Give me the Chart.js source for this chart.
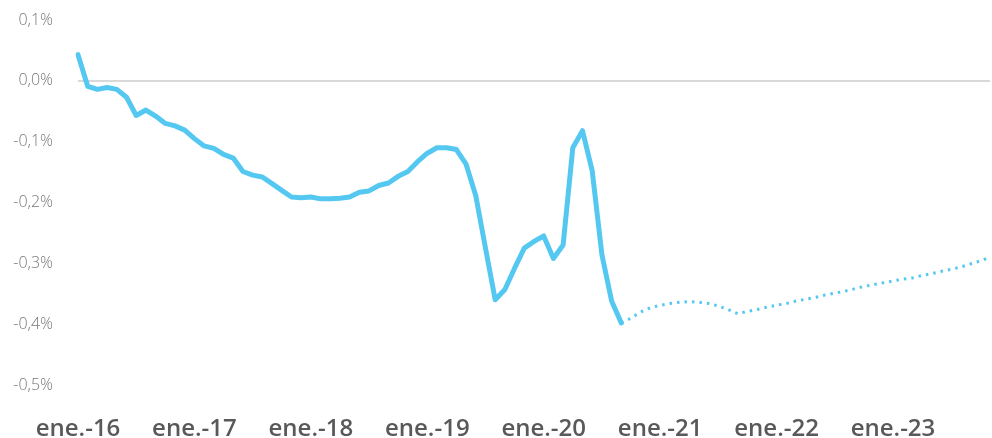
<!DOCTYPE html>
<html>
<head>
<meta charset="utf-8">
<script src="https://cdn.jsdelivr.net/npm/chart.js@4"></script>
<style>
  html, body { margin: 0; padding: 0; background: #fff; }
  #wrap { width: 992px; height: 438px; position: relative; }
</style>
</head>
<body>
<div id="wrap"><canvas id="chart"></canvas></div>
<script>
// month labels, Jan 2016 .. Nov 2023
const monthNames = ['ene.', 'feb.', 'mar.', 'abr.', 'may.', 'jun.', 'jul.', 'ago.', 'sep.', 'oct.', 'nov.', 'dic.'];
const years = ['16', '17', '18', '19', '20', '21', '22', '23'];
const labels = [];
years.forEach(y => monthNames.forEach(m => labels.push(m + '-' + y)));
labels.splice(95); // ends nov.-23

// observed series (%), ene.-16 .. sep.-20
const observed = [
  0.043, -0.009, -0.014, -0.011, -0.014, -0.027, -0.057, -0.048, -0.058, -0.070, -0.074, -0.081,
  -0.095, -0.107, -0.111, -0.121, -0.127, -0.149, -0.155, -0.158, -0.169, -0.180, -0.191, -0.192,
  -0.191, -0.194, -0.194, -0.193, -0.191, -0.183, -0.181, -0.172, -0.168, -0.157, -0.149, -0.133,
  -0.119, -0.110, -0.110, -0.113, -0.137, -0.189, -0.275, -0.360, -0.343, -0.308, -0.275, -0.264,
  -0.255, -0.292, -0.270, -0.110, -0.082, -0.148, -0.286, -0.362, -0.398
];

// projection (%), sep.-20 .. nov.-23
const projected = [
  -0.398, -0.390, -0.380, -0.373,
  -0.369, -0.366, -0.364, -0.363, -0.364, -0.366, -0.370, -0.376, -0.383, -0.379, -0.376, -0.372,
  -0.369, -0.366, -0.362, -0.359, -0.356, -0.352, -0.349, -0.346, -0.342, -0.338, -0.335, -0.332,
  -0.329, -0.326, -0.324, -0.320, -0.317, -0.313, -0.310, -0.306, -0.301, -0.296, -0.290
];

const projStart = observed.length - 1;
const solidData = labels.map((_, i) => i < observed.length ? observed[i] : null);
const dottedData = labels.map((_, i) => i >= projStart ? projected[i - projStart] : null);

const lineColor = '#55c8f1';
const clear = 'rgba(0,0,0,0)';

function fmtPct(v) {
  let r = Math.round(v * 10) / 10;
  if (Math.abs(r) < 1e-9) r = 0;
  return r.toFixed(1).replace('.', ',') + '%';
}

new Chart(document.getElementById('chart'), {
  type: 'line',
  data: {
    labels: labels,
    datasets: [
      {
        data: solidData,
        borderColor: lineColor,
        borderWidth: 5,
        borderJoinStyle: 'round',
        borderCapStyle: 'round',
        pointRadius: 0,
        tension: 0
      },
      {
        data: dottedData,
        borderColor: lineColor,
        borderWidth: 3,
        borderDash: [2.5, 5],
        pointRadius: 0,
        tension: 0
      }
    ]
  },
  options: {
    responsive: true,
    maintainAspectRatio: false,
    animation: false,
    layout: { padding: { top: 20, right: 2, bottom: 0, left: 0 } },
    plugins: { legend: { display: false }, tooltip: { enabled: false } },
    scales: {
      x: {
        offset: false,
        // tick marks are used only as spacing above the labels
        grid: { display: false, drawTicks: true, tickLength: 30, tickColor: clear },
        border: { display: false },
        afterFit: axis => { axis.height = 53; },
        ticks: {
          autoSkip: false,
          maxRotation: 0,
          padding: 0,
          color: '#595959',
          font: { family: 'Open Sans', size: 24, weight: '600' },
          callback: function (val, i) {
            const l = labels[i];
            return l.startsWith('ene.') ? l : '';
          }
        }
      },
      y: {
        min: -0.5,
        max: 0.1,
        afterFit: axis => { axis.width = 78; },
        border: { display: false },
        grid: {
          drawTicks: true,
          tickLength: 25,
          tickColor: clear,
          lineWidth: 2,
          color: ctx => Math.abs(ctx.tick.value) < 1e-9 ? '#d9d9d9' : clear
        },
        ticks: {
          stepSize: 0.1,
          padding: 0,
          color: '#787878',
          font: { family: 'Open Sans', size: 16, weight: '300' },
          callback: v => fmtPct(v)
        }
      }
    }
  }
});
</script>
</body>
</html>
